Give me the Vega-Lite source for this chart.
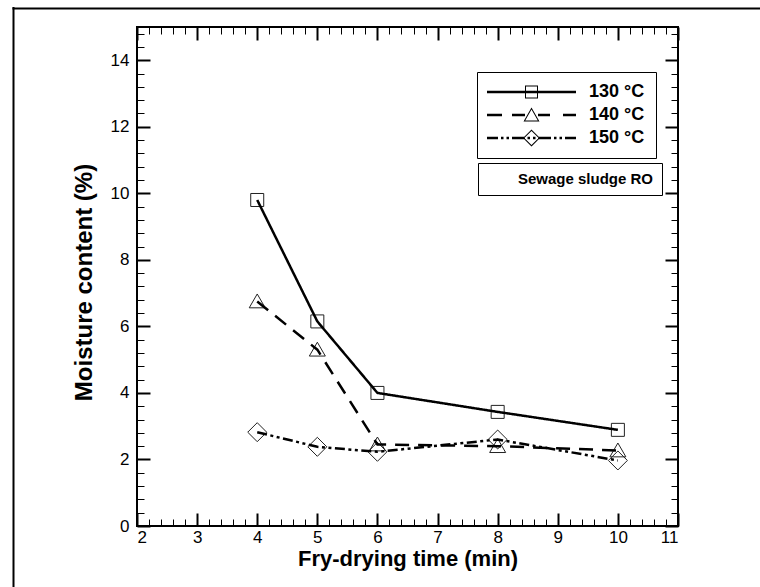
{
  "$schema": "https://vega.github.io/schema/vega-lite/v6.json",
  "width": 541,
  "height": 499,
  "autosize": {"type": "none"},
  "padding": {"left": 137, "top": 27, "right": 82, "bottom": 61},
  "background": "white",
  "config": {
    "view": {"stroke": "black", "strokeWidth": 2},
    "font": "Liberation Sans",
    "axis": {
      "labelFont": "Liberation Sans",
      "labelFontSize": 17,
      "labelColor": "black",
      "titleFont": "Liberation Sans",
      "titleFontSize": 22,
      "titleFontWeight": "bold",
      "titleColor": "black",
      "tickColor": "black",
      "domain": false,
      "grid": false
    }
  },
  "data": {
    "values": [
      {"time": 4, "moisture": 9.8, "temperature": "130 °C"},
      {"time": 5, "moisture": 6.15, "temperature": "130 °C"},
      {"time": 6, "moisture": 4.0, "temperature": "130 °C"},
      {"time": 8, "moisture": 3.43, "temperature": "130 °C"},
      {"time": 10, "moisture": 2.89, "temperature": "130 °C"},
      {"time": 4, "moisture": 6.75, "temperature": "140 °C"},
      {"time": 5, "moisture": 5.3, "temperature": "140 °C"},
      {"time": 6, "moisture": 2.45, "temperature": "140 °C"},
      {"time": 8, "moisture": 2.4, "temperature": "140 °C"},
      {"time": 10, "moisture": 2.27, "temperature": "140 °C"},
      {"time": 4, "moisture": 2.82, "temperature": "150 °C"},
      {"time": 5, "moisture": 2.38, "temperature": "150 °C"},
      {"time": 6, "moisture": 2.23, "temperature": "150 °C"},
      {"time": 8, "moisture": 2.6, "temperature": "150 °C"},
      {"time": 10, "moisture": 1.97, "temperature": "150 °C"}
    ]
  },
  "layer": [
    {
      "transform": [{"filter": {"field": "temperature", "equal": "130 °C"}}],
      "mark": {"type": "point", "shape": "M-1,-1H1V1H-1Z", "size": 169, "filled": false, "fill": "transparent", "stroke": "#222", "strokeWidth": 1, "opacity": 1},
      "encoding": {
        "x": {"field": "time", "type": "quantitative", "scale": {"domain": [2, 11], "nice": false, "zero": false},
          "axis": {"orient": "bottom", "values": [2.2,2.4,2.6,2.8,3.2,3.4,3.6,3.8,4.2,4.4,4.6,4.8,5.2,5.4,5.6,5.8,6.2,6.4,6.6,6.8,7.2,7.4,7.6,7.8,8.2,8.4,8.6,8.8,9.2,9.4,9.6,9.8,10.2,10.4,10.6,10.8], "labels": false, "tickSize": -7, "tickWidth": 1, "title": null}},
        "y": {"field": "moisture", "type": "quantitative", "scale": {"domain": [0, 15], "nice": false, "zero": false},
          "axis": {"orient": "left", "values": [0.4,0.8,1.2,1.6,2.4,2.8,3.2,3.6,4.4,4.8,5.2,5.6,6.4,6.8,7.2,7.6,8.4,8.8,9.2,9.6,10.4,10.8,11.2,11.6,12.4,12.8,13.2,13.6,14.4,14.8], "labels": false, "tickSize": -7, "tickWidth": 1, "title": null}}
      }
    },
    {
      "transform": [{"filter": {"field": "temperature", "equal": "140 °C"}}],
      "mark": {"type": "point", "shape": "M0,-1.15L1.23,0.98L-1.23,0.98Z", "size": 169, "filled": false, "fill": "transparent", "stroke": "#222", "strokeWidth": 1, "opacity": 1},
      "encoding": {
        "x": {"field": "time", "type": "quantitative", "scale": {"domain": [2, 11], "nice": false, "zero": false},
          "axis": {"orient": "top", "values": [2,3,4,5,6,7,8,9,10,11], "labels": false, "tickSize": -13, "tickWidth": 2, "title": null}},
        "y": {"field": "moisture", "type": "quantitative", "scale": {"domain": [0, 15], "nice": false, "zero": false},
          "axis": {"orient": "right", "values": [0,2,4,6,8,10,12,14], "labels": false, "tickSize": -13, "tickWidth": 2, "title": null}}
      }
    },
    {
      "transform": [{"filter": {"field": "temperature", "equal": "150 °C"}}],
      "mark": {"type": "point", "shape": "M0,-1.46L1.46,0L0,1.46L-1.46,0Z", "size": 169, "filled": false, "fill": "transparent", "stroke": "#222", "strokeWidth": 1, "opacity": 1},
      "encoding": {
        "x": {"field": "time", "type": "quantitative", "scale": {"domain": [2, 11], "nice": false, "zero": false},
          "axis": {"orient": "top", "values": [2.2,2.4,2.6,2.8,3.2,3.4,3.6,3.8,4.2,4.4,4.6,4.8,5.2,5.4,5.6,5.8,6.2,6.4,6.6,6.8,7.2,7.4,7.6,7.8,8.2,8.4,8.6,8.8,9.2,9.4,9.6,9.8,10.2,10.4,10.6,10.8], "labels": false, "tickSize": -7, "tickWidth": 1, "title": null}},
        "y": {"field": "moisture", "type": "quantitative", "scale": {"domain": [0, 15], "nice": false, "zero": false},
          "axis": {"orient": "right", "values": [0.4,0.8,1.2,1.6,2.4,2.8,3.2,3.6,4.4,4.8,5.2,5.6,6.4,6.8,7.2,7.6,8.4,8.8,9.2,9.6,10.4,10.8,11.2,11.6,12.4,12.8,13.2,13.6,14.4,14.8], "labels": false, "tickSize": -7, "tickWidth": 1, "title": null}}
      }
    },
    {
      "mark": {"type": "line", "color": "black", "strokeWidth": 2.5},
      "encoding": {
        "x": {"field": "time", "type": "quantitative", "scale": {"domain": [2, 11], "nice": false, "zero": false},
          "axis": {"orient": "bottom", "values": [2,3,4,5,6,7,8,9,10,11], "tickSize": -13, "tickWidth": 2, "labelPadding": 16, "title": "Fry-drying time (min)", "titlePadding": 3}},
        "y": {"field": "moisture", "type": "quantitative", "scale": {"domain": [0, 15], "nice": false, "zero": false},
          "axis": {"orient": "left", "values": [0,2,4,6,8,10,12,14], "tickSize": -13, "tickWidth": 2, "labelPadding": 21, "title": "Moisture content (%)", "titlePadding": 14, "titleFontSize": 24, "titleY": 255}},
        "strokeDash": {"field": "temperature", "type": "nominal",
          "scale": {"domain": ["130 °C", "140 °C", "150 °C"], "range": [[1, 0], [14, 9], [10, 3.5, 3, 3.5, 3, 3.5]]},
          "legend": null}
      }
    },
    {
      "mark": {"type": "point", "size": 4, "filled": true, "color": "black", "strokeWidth": 0, "opacity": 0},
      "encoding": {
        "x": {"field": "time", "type": "quantitative", "scale": {"domain": [2, 11], "nice": false, "zero": false},
          "axis": {"orient": "top", "values": [2], "labels": false, "offset": 19.5, "tickOffset": -124, "tickSize": -700, "tickWidth": 2, "tickCap": "square", "title": null}},
        "y": {"field": "moisture", "type": "quantitative", "scale": {"domain": [0, 15], "nice": false, "zero": false},
          "axis": {"orient": "left", "values": [15], "labels": false, "offset": 124, "tickOffset": -19.5, "tickSize": -800, "tickWidth": 2, "tickCap": "square", "title": null}},
        "shape": {"field": "temperature", "type": "nominal",
          "scale": {"range": [
            "M-10,-1.25H79V1.25H-10Z M28,-6.5H41V6.5H28Z M29,-5.5V5.5H40V-5.5Z",
            "M-10,-1.25H5V1.25H-10Z M15,-1.25H28V1.25H15Z M41,-1.25H53V1.25H41Z M66,-1.25H79V1.25H66Z M34.5,-7.5L42.5,6.5L26.5,6.5Z M34.5,-5.48L28.23,5.5L40.77,5.5Z",
            "M-10,-1.25H1V1.25H-10Z M4,-1.25H6.5V1.25H4Z M9.5,-1.25H12V1.25H9.5Z M15,-1.25H28V1.25H15Z M30.5,-1.25H33V1.25H30.5Z M36,-1.25H38.5V1.25H36Z M41,-1.25H54V1.25H41Z M57,-1.25H59.5V1.25H57Z M62.5,-1.25H65V1.25H62.5Z M68,-1.25H79V1.25H68Z M34.5,-8.5L43,0L34.5,8.5L26,0Z M34.5,-7.1L27.4,0L34.5,7.1L41.6,0Z"
          ]},
          "legend": {
            "orient": "none", "legendX": 340, "legendY": 45, "title": null,
            "padding": 11, "rowPadding": 5, "strokeColor": "black", "fillColor": "white",
            "symbolSize": 4, "symbolStrokeWidth": 0, "symbolOpacity": 1, "symbolFillColor": "black", "labelOffset": 83,
            "labelFont": "Liberation Sans", "labelFontSize": 18, "labelFontWeight": "bold", "labelColor": "black"
          }}
      }
    },
    {
      "data": {"values": [{"sample": "Sewage sludge RO"}]},
      "mark": {"type": "point", "opacity": 0},
      "encoding": {
        "color": {"field": "sample", "type": "nominal", "scale": {"range": ["black"]},
          "legend": {
            "orient": "none", "legendX": 341, "legendY": 136, "title": null,
            "padding": 8, "strokeColor": "black", "fillColor": "white",
            "symbolSize": 0, "symbolOpacity": 0, "symbolStrokeWidth": 0, "labelOffset": 17,
            "labelFont": "Liberation Sans", "labelFontSize": 15, "labelFontWeight": "bold", "labelColor": "black"
          }}
      }
    }
  ],
  "resolve": {"axis": {"x": "independent", "y": "independent"}}
}
